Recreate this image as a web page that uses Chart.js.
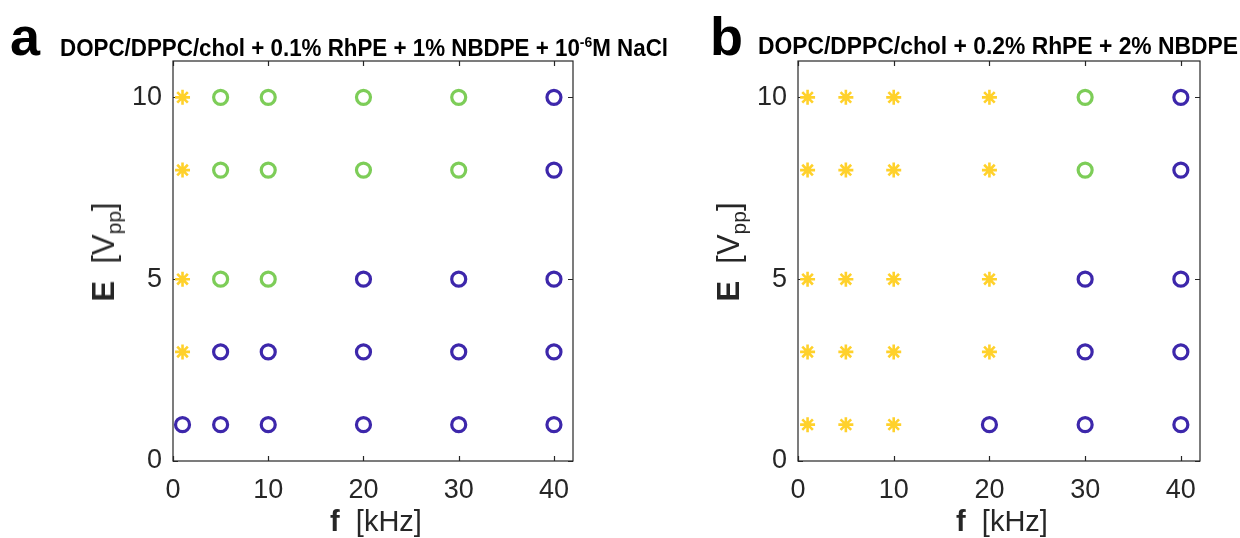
<!DOCTYPE html>
<html>
<head>
<meta charset="utf-8">
<script src="https://cdn.jsdelivr.net/npm/chart.js@4.4.1/dist/chart.umd.min.js"></script>
<style>
  body { margin: 0; background: #fff; }
  #wrap { position: relative; width: 1240px; height: 538px; overflow: hidden;
          font-family: "Liberation Sans", Arial, sans-serif; color: #262626; }
  canvas { position: absolute; top: 0; }
  .letter { position: absolute; font-weight: bold; font-size: 54px; color: #000; line-height: 1; }
  .title { position: absolute; font-weight: bold; font-size: 24px; color: #000;
           white-space: nowrap; line-height: 1; transform-origin: 0 0; }
  .title sup { font-size: 15px; vertical-align: 9px; }
  .xlab { position: absolute; font-size: 29px; white-space: nowrap; line-height: 1;
          transform: translateX(-50%); }
  .ylab { position: absolute; font-size: 31px; white-space: nowrap; line-height: 1;
          transform: translate(-50%, -50%) rotate(-90deg); }
  .ylab sub { font-size: 21px; vertical-align: -7px; }
</style>
</head>
<body>
<div id="wrap">
  <canvas id="chartA" width="620" height="538" style="left:0"></canvas>
  <canvas id="chartB" width="620" height="538" style="left:620px"></canvas>

  <div class="letter" style="left:10px; top:9px">a</div>
  <div class="title" data-w="608" style="left:60px; top:34px">DOPC/DPPC/chol + 0.1% RhPE + 1% NBDPE + 10<sup>-6</sup>M NaCl</div>
  <div class="letter" style="left:710px; top:9px">b</div>
  <div class="title" data-w="480" style="left:758px; top:34px">DOPC/DPPC/chol + 0.2% RhPE + 2% NBDPE</div>

  <div class="xlab" style="left:376px; top:507px"><b>f</b>&nbsp; [kHz]</div>
  <div class="xlab" style="left:1002px; top:507px"><b>f</b>&nbsp; [kHz]</div>
  <div class="ylab" style="left:106px; top:252px"><b>E</b>&nbsp; [V<sub>pp</sub>]</div>
  <div class="ylab" style="left:731px; top:252px"><b>E</b>&nbsp; [V<sub>pp</sub>]</div>
</div>

<script>
// frequency (kHz) and field amplitude (Vpp) grid
const freqKHz = [1, 5, 10, 20, 30, 40];
const voltVpp = [10, 8, 5, 3, 1];

// one string per voltage row, one letter per frequency
// Y = yellow star, G = green circle, B = blue circle
const stateA = ['YGGGGB', 'YGGGGB', 'YGGBBB', 'YBBBBB', 'BBBBBB'];
const stateB = ['YYYYGB', 'YYYYGB', 'YYYYBB', 'YYYYBB', 'YYYBBB'];

const xTicks = [0, 10, 20, 30, 40];
const yTicks = [0, 5, 10];

const YELLOW = '#FFD12B';
const GREEN = '#7DCD58';
const BLUE = '#3D27AB';
const AXIS = '#262626';

function pointsFor(states, code) {
    const pts = [];
    states.forEach((row, i) => {
        for (let j = 0; j < row.length; j++) {
            if (row[j] === code) pts.push({ x: freqKHz[j], y: voltVpp[i] });
        }
    });
    return pts;
}

// box around the plot with inward ticks on all four sides
const framePlugin = {
    id: 'frame',
    beforeDatasetsDraw(chart) {
        const { ctx, chartArea: a, scales } = chart;
        const tl = 5;
        ctx.save();
        ctx.strokeStyle = AXIS;
        ctx.lineWidth = 1.2;
        ctx.strokeRect(a.left, a.top, a.right - a.left, a.bottom - a.top);
        ctx.beginPath();
        xTicks.forEach(v => {
            const px = Math.round(scales.x.getPixelForValue(v)) + 0.5;
            ctx.moveTo(px, a.bottom); ctx.lineTo(px, a.bottom - tl);
            ctx.moveTo(px, a.top); ctx.lineTo(px, a.top + tl);
        });
        yTicks.forEach(v => {
            const py = Math.round(scales.y.getPixelForValue(v)) + 0.5;
            ctx.moveTo(a.left, py); ctx.lineTo(a.left + tl, py);
            ctx.moveTo(a.right, py); ctx.lineTo(a.right - tl, py);
        });
        ctx.stroke();
        ctx.restore();
    }
};

function makePanel(id, states, yAxisWidth, padRight) {
    const ctx = document.getElementById(id).getContext('2d');
    const tickFont = { family: '"Liberation Sans", Arial, sans-serif', size: 27 };
    return new Chart(ctx, {
        type: 'scatter',
        data: {
            datasets: [
                {
                    label: 'star',
                    data: pointsFor(states, 'Y'),
                    pointStyle: 'star',
                    radius: 7.5,
                    borderWidth: 2.6,
                    borderColor: YELLOW,
                    backgroundColor: YELLOW
                },
                {
                    label: 'green',
                    data: pointsFor(states, 'G'),
                    pointStyle: 'circle',
                    radius: 7,
                    borderWidth: 3.2,
                    borderColor: GREEN,
                    backgroundColor: 'transparent'
                },
                {
                    label: 'blue',
                    data: pointsFor(states, 'B'),
                    pointStyle: 'circle',
                    radius: 7,
                    borderWidth: 3.2,
                    borderColor: BLUE,
                    backgroundColor: 'transparent'
                }
            ]
        },
        options: {
            responsive: false,
            animation: false,
            events: [],
            layout: { padding: { left: 0, top: 61, right: padRight, bottom: 0 } },
            plugins: {
                legend: { display: false },
                tooltip: { enabled: false }
            },
            scales: {
                x: {
                    type: 'linear',
                    min: 0,
                    max: 42,
                    grid: { display: false, drawTicks: false },
                    border: { display: false },
                    afterBuildTicks: s => { s.ticks = xTicks.map(v => ({ value: v })); },
                    afterFit: s => { s.height = 77; },
                    ticks: { color: AXIS, font: tickFont, padding: 13, maxRotation: 0 }
                },
                y: {
                    type: 'linear',
                    min: 0,
                    max: 11,
                    grid: { display: false, drawTicks: false },
                    border: { display: false },
                    afterBuildTicks: s => { s.ticks = yTicks.map(v => ({ value: v })); },
                    afterFit: s => { s.width = yAxisWidth; },
                    ticks: { color: AXIS, font: tickFont, padding: 11 }
                }
            }
        },
        plugins: [framePlugin]
    });
}

makePanel('chartA', stateA, 173, 47);
makePanel('chartB', stateB, 178, 40);

// squeeze the bold titles to the condensed width of the original
document.querySelectorAll('.title').forEach(el => {
    const w = el.getBoundingClientRect().width;
    el.style.transform = 'scaleX(' + (Number(el.dataset.w) / w) + ')';
});
</script>
</body>
</html>
